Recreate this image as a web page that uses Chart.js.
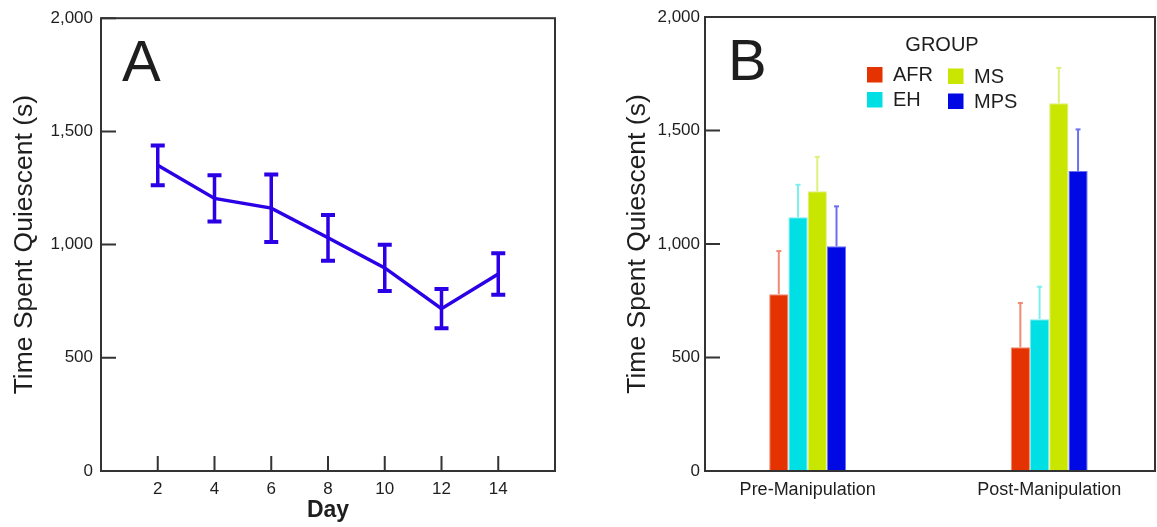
<!DOCTYPE html>
<html>
<head>
<meta charset="utf-8">
<script src="https://cdn.jsdelivr.net/npm/chart.js@4.4.1/dist/chart.umd.min.js"></script>
<style>
  html, body { margin: 0; padding: 0; background: #fff; }
  #wrapA { position: absolute; left: 0; top: 0; width: 580px; height: 527px; }
  #wrapB { position: absolute; left: 580px; top: 0; width: 577px; height: 527px; }
</style>
</head>
<body>
<div id="wrapA"><canvas id="chartA"></canvas></div>
<div id="wrapB"><canvas id="chartB"></canvas></div>
<script>
// panel A: quiescence by day
const days = [2, 4, 6, 8, 10, 12, 14];
const dayMeans = [1350, 1204, 1161, 1030, 897, 717, 870];
const dayErrors = [88, 102, 149, 101, 102, 87, 92];
const yTicks = [0, 500, 1000, 1500, 2000];

// panel B: groups before / after manipulation
const phases = ['Pre-Manipulation', 'Post-Manipulation'];
const groups = ['AFR', 'EH', 'MS', 'MPS'];
const afrMeans = [779, 545];
const afrErrors = [192, 197];
const ehMeans = [1118, 669];
const ehErrors = [145, 145];
const msMeans = [1232, 1620];
const msErrors = [154, 158];
const mpsMeans = [990, 1322];
const mpsErrors = [178, 185];

const FONT = "'Liberation Sans', Arial, sans-serif";
const INK = '#1e1e1e';
Chart.defaults.font.family = FONT;
Chart.defaults.color = INK;

const lineBlue = '#2b00e6';
const barColors = ['#e43200', '#00dfe3', '#c8e600', '#0008e4'];
const barEdges = ['#f08a70', '#7ceef0', '#dff07a', '#6a70f0'];

// box round the plot area + inward tick marks
const framePlugin = {
  id: 'frame',
  afterDatasetsDraw(chart, args, opts) {
    const { ctx, chartArea: a, scales } = chart;
    ctx.save();
    ctx.strokeStyle = '#333';
    ctx.lineWidth = 2;
    ctx.strokeRect(a.left, a.top, a.right - a.left, a.bottom - a.top);
    ctx.beginPath();
    scales.y.ticks.forEach(t => {
      const y = scales.y.getPixelForValue(t.value);
      ctx.moveTo(a.left, y);
      ctx.lineTo(a.left + 15, y);
    });
    if (opts.xTicks) {
      scales.x.ticks.forEach(t => {
        const x = scales.x.getPixelForValue(t.value);
        ctx.moveTo(x, a.bottom);
        ctx.lineTo(x, a.bottom - 15);
      });
    }
    ctx.stroke();
    ctx.restore();
  }
};

// symmetric error bars on the line
const lineErrorPlugin = {
  id: 'lineErrors',
  afterDatasetsDraw(chart) {
    const { ctx, scales } = chart;
    const ds = chart.data.datasets[0];
    const meta = chart.getDatasetMeta(0);
    ctx.save();
    ctx.strokeStyle = ds.borderColor;
    meta.data.forEach((pt, i) => {
      const v = ds.data[i].y;
      const top = scales.y.getPixelForValue(v + ds.errors[i]);
      const bot = scales.y.getPixelForValue(v - ds.errors[i]);
      ctx.lineWidth = 3.5;
      ctx.beginPath();
      ctx.moveTo(pt.x, top);
      ctx.lineTo(pt.x, bot);
      ctx.stroke();
      ctx.lineWidth = 4;
      ctx.beginPath();
      ctx.moveTo(pt.x - 7, top);
      ctx.lineTo(pt.x + 7, top);
      ctx.moveTo(pt.x - 7, bot);
      ctx.lineTo(pt.x + 7, bot);
      ctx.stroke();
    });
    ctx.restore();
  }
};

// upper-only error bars on each bar
const barErrorPlugin = {
  id: 'barErrors',
  afterDatasetsDraw(chart) {
    const { ctx, scales } = chart;
    ctx.save();
    chart.data.datasets.forEach((ds, i) => {
      const meta = chart.getDatasetMeta(i);
      ctx.strokeStyle = ds.borderColor;
      meta.data.forEach((bar, j) => {
        const top = scales.y.getPixelForValue(ds.data[j].y + ds.errors[j]);
        ctx.lineWidth = 2;
        ctx.beginPath();
        ctx.moveTo(bar.x, bar.y);
        ctx.lineTo(bar.x, top);
        ctx.stroke();
        ctx.beginPath();
        ctx.moveTo(bar.x - 2.5, top + 0.5);
        ctx.lineTo(bar.x + 2.5, top + 0.5);
        ctx.stroke();
      });
    });
    ctx.restore();
  }
};

// big panel letter
const letterPlugin = {
  id: 'letter',
  afterDraw(chart, args, opts) {
    const ctx = chart.ctx;
    ctx.save();
    ctx.fillStyle = INK;
    ctx.font = '58px ' + FONT;
    ctx.textBaseline = 'alphabetic';
    ctx.fillText(opts.text, opts.x, opts.y);
    ctx.restore();
  }
};

// GROUP legend, two columns
const groupLegendPlugin = {
  id: 'groupLegend',
  afterDraw(chart) {
    const ctx = chart.ctx;
    ctx.save();
    ctx.fillStyle = INK;
    ctx.font = '20px ' + FONT;
    ctx.textAlign = 'center';
    ctx.textBaseline = 'middle';
    ctx.fillText('GROUP', 362, 45);
    ctx.textAlign = 'left';
    chart.data.datasets.forEach((ds, i) => {
      const col = Math.floor(i / 2);
      const row = i % 2;
      const x = 287 + col * 81;
      const y = 67 + row * 25 + col * 1.5;
      ctx.fillStyle = ds.backgroundColor;
      ctx.fillRect(x, y, 15.5, 15.5);
      ctx.fillStyle = INK;
      ctx.fillText(ds.label, x + 26, y + 8.5);
    });
    ctx.restore();
  }
};

const yAxis = (width, titlePad, labelPad) => ({
  min: 0,
  max: 2000,
  afterBuildTicks: s => { s.ticks = yTicks.map(v => ({ value: v })); },
  afterFit: s => { s.width = width; },
  grid: { display: false, drawTicks: false },
  border: { display: false },
  ticks: { font: { size: 17 }, padding: labelPad, color: INK, callback: v => v.toLocaleString('en-US') },
  title: { display: true, text: 'Time Spent Quiescent (s)', font: { size: 26.5 }, color: INK, padding: { top: titlePad, bottom: 0 } }
});

new Chart(document.getElementById('chartA'), {
  type: 'line',
  data: {
    datasets: [{
      data: days.map((d, i) => ({ x: d, y: dayMeans[i] })),
      errors: dayErrors,
      borderColor: lineBlue,
      borderWidth: 3.5,
      pointRadius: 0,
      tension: 0
    }]
  },
  options: {
    responsive: true,
    maintainAspectRatio: false,
    animation: false,
    layout: { padding: { top: 17, right: 25, left: 0, bottom: 0 } },
    plugins: {
      legend: { display: false },
      tooltip: { enabled: false },
      frame: { xTicks: true },
      letter: { text: 'A', x: 122, y: 81 }
    },
    scales: {
      x: {
        type: 'linear',
        min: 0,
        max: 16,
        afterBuildTicks: s => { s.ticks = days.map(v => ({ value: v })); },
        afterFit: s => { s.height = 56; },
        grid: { display: false, drawTicks: false },
        border: { display: false },
        ticks: { font: { size: 17 }, padding: 8, color: INK },
        title: { display: true, text: 'Day', font: { size: 23, weight: 'bold' }, color: INK, padding: { top: 0, bottom: 3 } }
      },
      y: yAxis(101, 9, 8)
    }
  },
  plugins: [framePlugin, lineErrorPlugin, letterPlugin]
});

const seriesMeans = [afrMeans, ehMeans, msMeans, mpsMeans];
const seriesErrors = [afrErrors, ehErrors, msErrors, mpsErrors];

new Chart(document.getElementById('chartB'), {
  type: 'bar',
  data: {
    datasets: groups.map((g, i) => ({
      label: g,
      data: phases.map((p, j) => ({ x: j + 1, y: seriesMeans[i][j] })),
      errors: seriesErrors[i],
      backgroundColor: barColors[i],
      borderColor: barEdges[i],
      borderWidth: 1,
      categoryPercentage: 0.3185,
      barPercentage: 1
    }))
  },
  options: {
    responsive: true,
    maintainAspectRatio: false,
    animation: false,
    layout: { padding: { top: 17, right: 2, left: 0, bottom: 0 } },
    plugins: {
      legend: { display: false },
      tooltip: { enabled: false },
      frame: { xTicks: false },
      letter: { text: 'B', x: 148, y: 80 }
    },
    scales: {
      x: {
        type: 'linear',
        min: 0.575,
        max: 2.438,
        offset: false,
        bounds: 'data',
        afterBuildTicks: s => { s.ticks = phases.map((p, j) => ({ value: j + 1 })); },
        afterFit: s => { s.height = 56; },
        grid: { display: false, drawTicks: false, offset: false },
        border: { display: false },
        ticks: { font: { size: 18 }, padding: 8, color: INK, callback: v => phases[Math.round(v) - 1] }
      },
      y: yAxis(125, 42, 5)
    }
  },
  plugins: [framePlugin, barErrorPlugin, letterPlugin, groupLegendPlugin]
});
</script>
</body>
</html>
